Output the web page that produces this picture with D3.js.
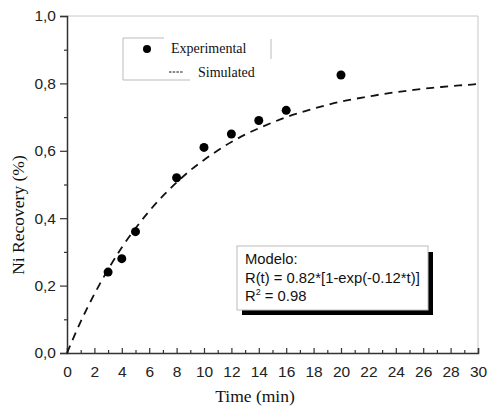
<!DOCTYPE html>
<html lang="en">
<head>
    <meta charset="UTF-8">
    <title>Ni Recovery</title>
    <script src="https://d3js.org/d3.v7.min.js"></script>
    <style>
        body {
            margin: 0;
            background: #fff;
        }

        .tick text {
            font-family: "Liberation Sans", Arial, sans-serif;
            font-size: 15.5px;
            fill: #222;
        }

        .axis-title {
            font-family: "Liberation Serif", "Times New Roman", serif;
            font-size: 17.5px;
            fill: #111;
        }

        .legend text {
            font-family: "Liberation Serif", "Times New Roman", serif;
            font-size: 14px;
            fill: #111;
        }

        .note text {
            font-family: "Liberation Sans", Arial, sans-serif;
            font-size: 14.8px;
            fill: #111;
        }
    </style>
</head>
<body>
<script>

    // Experimental points
    const expTime = [3, 4, 5, 8, 10, 12, 14, 16, 20];
    const expRecovery = [0.24, 0.28, 0.36, 0.52, 0.61, 0.65, 0.69, 0.72, 0.825];

    // Simulated curve, read off at every minute
    const simTime = [0, 1, 2, 3, 4, 5, 6, 7, 8, 9, 10, 11, 12, 13, 14, 15,
        16, 17, 18, 19, 20, 21, 22, 23, 24, 25, 26, 27, 28, 29, 30];
    const simRecovery = [0, 0.093, 0.175, 0.248, 0.313, 0.370, 0.421, 0.466, 0.506, 0.542,
        0.573, 0.601, 0.626, 0.648, 0.667, 0.684, 0.700, 0.713, 0.725, 0.736,
        0.746, 0.754, 0.761, 0.768, 0.774, 0.779, 0.784, 0.788, 0.792, 0.795, 0.798];

    const xTicks = d3.range(0, 31, 2);
    const yTicks = [0, 0.2, 0.4, 0.6, 0.8, 1.0];

    const noteLines = ["Modelo:", "R(t) = 0.82*[1-exp(-0.12*t)]"];

    const width = 488;
    const height = 410;
    const margin = {top: 16, right: 10, bottom: 57, left: 67};

    const svg = d3.select("body").append("svg")
        .attr("width", width)
        .attr("height", height);

    const x = d3.scaleLinear().domain([0, 30]).range([margin.left, width - margin.right]);
    const y = d3.scaleLinear().domain([0, 1]).range([height - margin.bottom, margin.top]);

    // Light frame on top and right
    svg.append("path")
        .attr("d", `M${x(0)},${y(1)} H${x(30)} V${y(0)}`)
        .attr("fill", "none")
        .attr("stroke", "#c8c8c8")
        .attr("stroke-width", 1);

    const fmt = d => d3.format(".1f")(d).replace(".", ",");

    // X axis, ticks pointing inward
    svg.append("g")
        .attr("transform", `translate(0,${y(0)})`)
        .call(d3.axisBottom(x).tickValues(xTicks).tickSize(-5).tickPadding(13).tickFormat(d3.format("d")));
    svg.append("g")
        .attr("transform", `translate(0,${y(0)})`)
        .call(d3.axisBottom(x).tickValues(d3.range(1, 30, 2)).tickSize(-3).tickFormat(""))
        .select(".domain").remove();

    // Y axis, ticks pointing outward
    svg.append("g")
        .attr("transform", `translate(${x(0)},0)`)
        .call(d3.axisLeft(y).tickValues(yTicks).tickSize(7).tickPadding(4).tickFormat(fmt));
    svg.append("g")
        .attr("transform", `translate(${x(0)},0)`)
        .call(d3.axisLeft(y).tickValues([0.1, 0.3, 0.5, 0.7, 0.9]).tickSize(3).tickFormat(""))
        .select(".domain").remove();

    svg.selectAll(".domain").attr("stroke", "#333").attr("stroke-width", 1.5);
    svg.selectAll(".tick line").attr("stroke", "#333").attr("stroke-width", 1.2);

    // Axis titles
    svg.append("text")
        .attr("class", "axis-title")
        .attr("x", 255)
        .attr("y", 402)
        .attr("text-anchor", "middle")
        .text("Time (min)");

    svg.append("text")
        .attr("class", "axis-title")
        .attr("transform", "translate(24,215) rotate(-90)")
        .attr("text-anchor", "middle")
        .text("Ni Recovery (%)");

    // Simulated curve
    const line = d3.line()
        .x((d, i) => x(simTime[i]))
        .y(d => y(d))
        .curve(d3.curveMonotoneX);

    svg.append("path")
        .datum(simRecovery)
        .attr("d", line)
        .attr("fill", "none")
        .attr("stroke", "#111")
        .attr("stroke-width", 1.8)
        .attr("stroke-dasharray", "8,6");

    // Experimental points
    svg.append("g")
        .selectAll("circle")
        .data(expTime)
        .enter().append("circle")
        .attr("cx", d => x(d))
        .attr("cy", (d, i) => y(expRecovery[i]))
        .attr("r", 4.5)
        .attr("fill", "#000");

    // Legend (partial box as in original)
    const legend = svg.append("g").attr("class", "legend");
    legend.append("path")
        .attr("d", "M164,38 H123 V80 H190 M271,39 V59")
        .attr("fill", "none")
        .attr("stroke", "#bbb")
        .attr("stroke-width", 1);
    legend.append("circle")
        .attr("cx", 147).attr("cy", 49).attr("r", 4).attr("fill", "#000");
    legend.append("text")
        .attr("x", 171).attr("y", 53)
        .text("Experimental");
    legend.append("line")
        .attr("x1", 169).attr("x2", 183).attr("y1", 72).attr("y2", 72)
        .attr("stroke", "#111").attr("stroke-width", 1)
        .attr("stroke-dasharray", "2.5,1.2");
    legend.append("text")
        .attr("x", 198).attr("y", 77)
        .text("Simulated");

    // Model note box with shadow
    const note = svg.append("g").attr("class", "note");
    note.append("rect")
        .attr("x", 242).attr("y", 252).attr("width", 191).attr("height", 63)
        .attr("fill", "#000");
    note.append("rect")
        .attr("x", 237).attr("y", 246).attr("width", 191).attr("height", 64)
        .attr("fill", "#fff")
        .attr("stroke", "#bbb")
        .attr("stroke-width", 1);
    note.selectAll(".line")
        .data(noteLines)
        .enter().append("text")
        .attr("x", 245)
        .attr("y", (d, i) => 264 + i * 18.5)
        .text(d => d);
    const r2 = note.append("text").attr("x", 245).attr("y", 301);
    r2.append("tspan").text("R");
    r2.append("tspan").attr("font-size", 9).attr("dy", -6).text("2");
    r2.append("tspan").attr("dy", 6).text(" = 0.98");

</script>
</body>
</html>
